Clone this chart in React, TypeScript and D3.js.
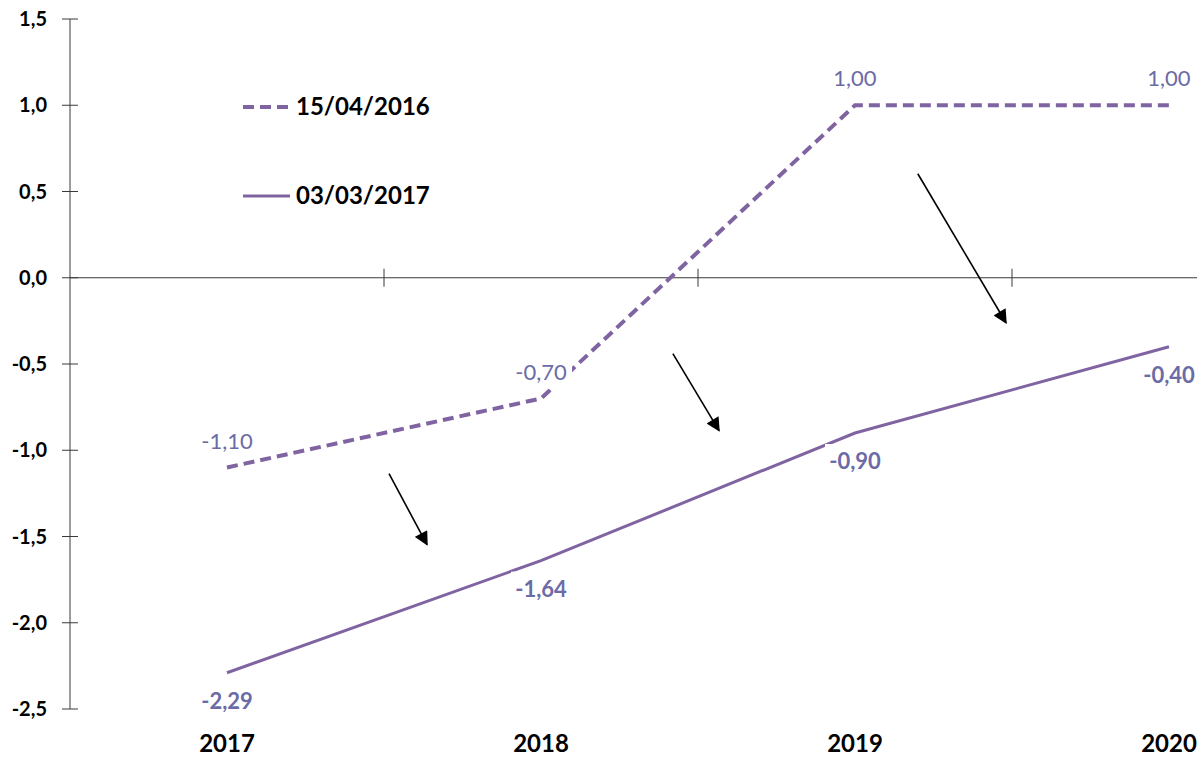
import React from 'react';
import * as d3 from 'd3';

// categories and series
const years = ['2017', '2018', '2019', '2020'];
const april2016 = [-1.1, -0.7, 1.0, 1.0];
const march2017 = [-2.29, -1.64, -0.9, -0.4];
const yTicks = [1.5, 1.0, 0.5, 0.0, -0.5, -1.0, -1.5, -2.0, -2.5];

// revision arrows, in category-index / value units
const arrows = [
  { x1: 0.516, y1: -1.136, x2: 0.637, y2: -1.547 },
  { x1: 1.42, y1: -0.44, x2: 1.567, y2: -0.886 },
  { x1: 2.2, y1: 0.603, x2: 2.481, y2: -0.261 },
];

const W = 1197;
const H = 758;
const purple = '#8064a2';
const labelColor = '#6b6ba6';
const axisColor = '#3a3a3a';
const font = 'Lato, "Open Sans", sans-serif';

const fmt = (v: number) => v.toFixed(2).replace('.', ',');
const fmtTick = (v: number) => v.toFixed(1).replace('.', ',');

export default function App() {
  const left = 70;
  const band = 314;

  const x = d3.scaleBand<string>().domain(years).range([left, left + band * years.length]);
  const xc = (yr: string) => (x(yr) as number) + x.bandwidth() / 2;
  const xi = d3.scaleLinear().domain([0, years.length - 1]).range([xc(years[0]), xc(years[years.length - 1])]);
  const y = d3.scaleLinear().domain([-2.5, 1.5]).range([709, 19]);

  const line = d3
    .line<number>()
    .x((_, i) => xc(years[i]))
    .y(d => y(d));

  const boundaries = years.slice(1).map(yr => x(yr) as number);

  return (
    <div>
      <style>{'body{margin:0}'}</style>
      <svg width={W} height={H} style={{ display: 'block', background: '#fff' }}>
        <defs>
          <marker id="arrBig" viewBox="0 0 10 10" refX="9" refY="5" markerWidth="16" markerHeight="14" markerUnits="userSpaceOnUse" orient="auto">
            <path d="M0,0 L10,5 L0,10 z" fill="#000" />
          </marker>
        </defs>

        {/* y axis */}
        <line x1={left} x2={left} y1={y(1.5)} y2={y(-2.5)} stroke={axisColor} strokeWidth={1} />
        {yTicks.map(t => (
          <g key={t}>
            <line x1={left - 8} x2={left + 8} y1={y(t)} y2={y(t)} stroke={axisColor} strokeWidth={1} />
            <text x={47} y={y(t)} dy="0.35em" textAnchor="end" fontFamily={font} fontWeight={700} fontSize={20} fill="#000">
              {fmtTick(t)}
            </text>
          </g>
        ))}

        {/* x axis at zero */}
        <line x1={left} x2={W} y1={y(0)} y2={y(0)} stroke={axisColor} strokeWidth={1} />
        {boundaries.map(b => (
          <line key={b} x1={b} x2={b} y1={y(0) - 9} y2={y(0) + 9} stroke={axisColor} strokeWidth={1} />
        ))}
        {years.map(yr => (
          <text key={yr} x={xc(yr)} y={752} textAnchor="middle" fontFamily={font} fontWeight={700} fontSize={24} fill="#000">
            {yr}
          </text>
        ))}

        {/* series */}
        <path d={line(april2016) || ''} fill="none" stroke={purple} strokeWidth={4} strokeDasharray="11 6" />
        <path d={line(march2017) || ''} fill="none" stroke={purple} strokeWidth={3} />

        {/* labels */}
        {april2016.map((v, i) => (
          <g key={'a' + i}>
            <rect x={xc(years[i]) - 31} y={y(v) - 38} width={62} height={28} fill="#fff" />
            <text x={xc(years[i])} y={y(v) - 19} textAnchor="middle" fontFamily={font} fontSize={22} fill={labelColor}>
              {fmt(v)}
            </text>
          </g>
        ))}
        {march2017.map((v, i) => (
          <g key={'m' + i}>
            <rect x={xc(years[i]) - 30} y={y(v) + 11} width={60} height={28} fill="#fff" />
            <text x={xc(years[i])} y={y(v) + 36} textAnchor="middle" fontFamily={font} fontWeight={700} fontSize={22} fill={labelColor}>
              {fmt(v)}
            </text>
          </g>
        ))}

        {/* arrows */}
        {arrows.map((a, i) => (
          <line
            key={i}
            x1={xi(a.x1)}
            y1={y(a.y1)}
            x2={xi(a.x2)}
            y2={y(a.y2)}
            stroke="#000"
            strokeWidth={1.6}
            markerEnd="url(#arrBig)"
          />
        ))}

        {/* legend */}
        <line x1={243} x2={290} y1={107} y2={107} stroke={purple} strokeWidth={4} strokeDasharray="11 6" />
        <text x={296} y={115} fontFamily={font} fontWeight={700} fontSize={24} fill="#000">15/04/2016</text>
        <line x1={243} x2={290} y1={196} y2={196} stroke={purple} strokeWidth={3} />
        <text x={296} y={204} fontFamily={font} fontWeight={700} fontSize={24} fill="#000">03/03/2017</text>
      </svg>
    </div>
  );
}
